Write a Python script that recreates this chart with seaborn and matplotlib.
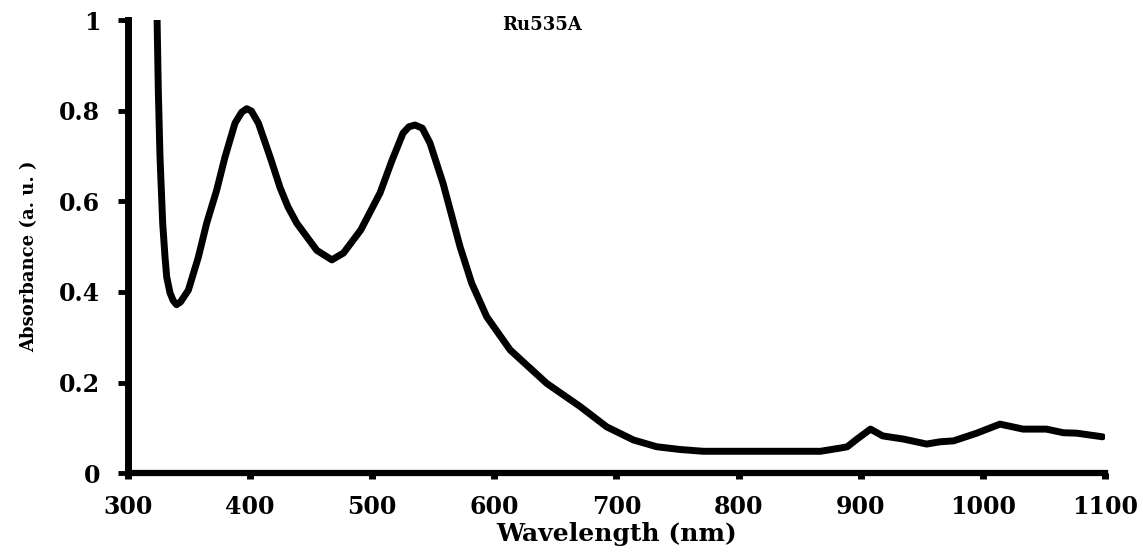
import numpy as np
import pandas as pd
import matplotlib
matplotlib.use("Agg")
import matplotlib.pyplot as plt
import seaborn as sns

# values
wavelength = [323.5, 324.8, 326.2, 328.4, 330.3, 331.7, 334.4, 337, 339.7, 343, 349.4,
              357.6, 364.4, 372.6, 379.4, 387.6, 393, 397.2, 401, 406.8, 416.4, 424.6,
              431, 438.2, 454.6, 466.9, 476.4, 490.6, 506.4, 516.2, 525.2, 530, 535, 541,
              547.3, 558, 571.9, 581.5, 593.8, 612.9, 642.9, 670.2, 692, 713.9, 733,
              752, 771, 867, 883, 889, 897, 908, 918, 935, 954, 965, 976, 995, 1014,
              1033, 1052, 1066, 1077, 1098]
absorbance = [1.05, 0.846, 0.698, 0.552, 0.477, 0.433, 0.398, 0.381, 0.372, 0.378, 0.404,
              0.477, 0.552, 0.625, 0.698, 0.773, 0.797, 0.805, 0.80, 0.773, 0.698, 0.630,
              0.588, 0.552, 0.492, 0.471, 0.486, 0.537, 0.619, 0.691, 0.751, 0.765, 0.769, 0.762,
              0.729, 0.64, 0.50, 0.419, 0.345, 0.272, 0.198, 0.147, 0.102, 0.073, 0.058,
              0.052, 0.048, 0.048, 0.055, 0.058, 0.075, 0.097, 0.082, 0.075, 0.064, 0.069,
              0.071, 0.088, 0.108, 0.097, 0.097, 0.089, 0.088, 0.08]

x_ticks = [300, 400, 500, 600, 700, 800, 900, 1000, 1100]
y_ticks = [0, 0.2, 0.4, 0.6, 0.8, 1]
y_tick_labels = ["0", "0.2", "0.4", "0.6", "0.8", "1"]
sample_name = "Ru535A"

sns.set_style("ticks")
plt.rcParams['font.family'] = ['DejaVu Serif']
plt.rcParams['font.weight'] = 'bold'
plt.rcParams['text.color'] = 'black'
plt.rcParams['axes.labelcolor'] = 'black'
plt.rcParams['xtick.color'] = 'black'
plt.rcParams['ytick.color'] = 'black'
plt.rcParams['axes.edgecolor'] = 'black'

df = pd.DataFrame({'wl': wavelength, 'abs': absorbance})

fig = plt.figure(figsize=(11.43, 5.52), dpi=100)
ax = fig.add_axes([0.112, 0.1431, 0.8547, 0.8198])

sns.lineplot(data=df, x='wl', y='abs', color='black', lw=5, ax=ax,
             estimator=None, sort=False)
for ln in ax.lines:
    ln.set_solid_joinstyle('round')
    ln.set_solid_capstyle('round')

ax.set_xlim(300, 1100)
ax.set_ylim(0, 1)
ax.set_xticks(x_ticks)
ax.set_yticks(y_ticks)
ax.set_yticklabels(y_tick_labels)
sns.despine(ax=ax)

ax.spines['left'].set_linewidth(5)
ax.spines['bottom'].set_linewidth(4.5)
ax.tick_params(axis='x', direction='out', length=4.5, width=5, pad=11, labelsize=17)
ax.tick_params(axis='y', direction='out', length=7, width=3.5, pad=13, labelsize=17)
for lab in ax.get_xticklabels() + ax.get_yticklabels():
    lab.set_fontweight('bold')

ax.set_xlabel('Wavelength (nm)', fontsize=18, fontweight='bold')
ax.set_ylabel('Absorbance (a. u. )', fontsize=13, fontweight='bold')
ax.xaxis.set_label_coords(0.5, -0.108)
ax.yaxis.set_label_coords(-0.092, 0.48)

ax.text(0.424, 0.978, sample_name, transform=ax.transAxes, ha='center',
        va='baseline', fontsize=13, fontweight='bold')

fig.savefig('out.png', dpi=100)
